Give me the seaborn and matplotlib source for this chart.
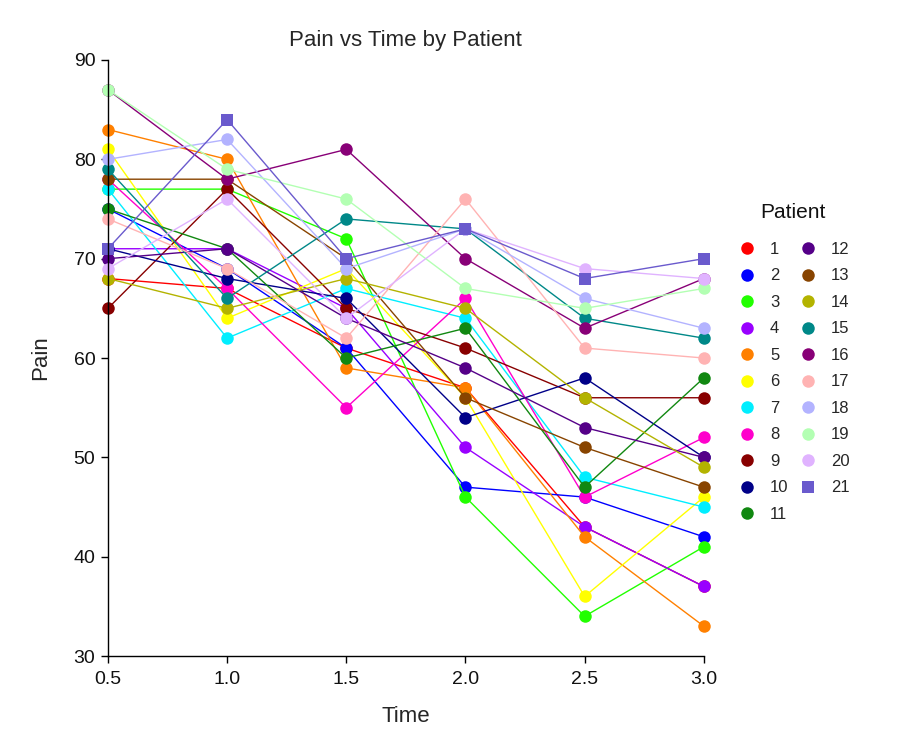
import matplotlib
matplotlib.use("Agg")
import matplotlib.pyplot as plt
from matplotlib.lines import Line2D
import seaborn as sns
import pandas as pd

times = [0.5, 1.0, 1.5, 2.0, 2.5, 3.0]
patients = [str(i) for i in range(1, 22)]
pain = {
    "1":  [68, 67, 61, 57, 43, 37],
    "2":  [75, 69, 61, 47, 46, 42],
    "3":  [77, 77, 72, 46, 34, 41],
    "4":  [71, 71, 65, 51, 43, 37],
    "5":  [83, 80, 59, 57, 42, 33],
    "6":  [81, 64, 69, 56, 36, 46],
    "7":  [77, 62, 67, 64, 48, 45],
    "8":  [78, 67, 55, 66, 46, 52],
    "9":  [65, 77, 65, 61, 56, 56],
    "10": [71, 68, 66, 54, 58, 50],
    "11": [75, 71, 60, 63, 47, 58],
    "12": [70, 71, 64, 59, 53, 50],
    "13": [78, 78, 70, 56, 51, 47],
    "14": [68, 65, 68, 65, 56, 49],
    "15": [79, 66, 74, 73, 64, 62],
    "16": [87, 78, 81, 70, 63, 68],
    "17": [74, 69, 62, 76, 61, 60],
    "18": [80, 82, 69, 73, 66, 63],
    "19": [87, 79, 76, 67, 65, 67],
    "20": [69, 76, 64, 73, 69, 68],
    "21": [71, 84, 70, 73, 68, 70],
}
colors = ["#FF0000", "#0000FF", "#22FF00", "#9900FF", "#FF8000", "#FFFF00",
          "#00EEFF", "#FF00CC", "#880000", "#000088", "#118811", "#550088",
          "#884400", "#B3B300", "#008888", "#880077", "#FFB3B3", "#B3B3FF",
          "#B3FFB3", "#E0B3FF", "#6A5ACD"]
markers_list = ["o"] * 20 + ["s"]

rows = []
for p in patients:
    for t, v in zip(times, pain[p]):
        rows.append({"Time": t, "Pain": v, "Patient": p})
df = pd.DataFrame(rows)

sns.set_style("white")
plt.rcParams["font.family"] = ["Liberation Sans", "DejaVu Sans"]

fig = plt.figure(figsize=(9.07, 7.5), dpi=100)
ax = fig.add_axes([0.119, 0.1253, 0.657, 0.7947])

palette = dict(zip(patients, colors))
mk = dict(zip(patients, markers_list))
sns.lineplot(data=df, x="Time", y="Pain", hue="Patient", style="Patient",
             hue_order=patients, style_order=patients, palette=palette,
             markers=mk, dashes=False, errorbar=None, ax=ax, legend=False,
             linewidth=1.0, markersize=9, markeredgewidth=0)
for ln in ax.get_lines():
    ln.set_clip_on(False)

ax.set_xlim(0.5, 3.0)
ax.set_ylim(30, 90)
ax.set_xticks(times)
ax.set_xticklabels([f"{t:.1f}" for t in times])
ax.set_yticks([30, 40, 50, 60, 70, 80, 90])
for s in ["top", "right"]:
    ax.spines[s].set_visible(False)
for s in ["left", "bottom"]:
    ax.spines[s].set_color("black")
    ax.spines[s].set_linewidth(1.0)
ax.tick_params(axis="x", pad=6)
ax.tick_params(axis="y", pad=4)
ax.tick_params(axis="both", direction="out", length=5, width=1, color="black",
               labelsize=14, labelcolor="#111111", left=True, bottom=True)
ax.set_xlabel("Time", fontsize=16, labelpad=13)
ax.set_ylabel("Pain", fontsize=16, labelpad=16)
ax.set_title("Pain vs Time by Patient", fontsize=16, pad=10)

handles = [Line2D([], [], linestyle="none", marker=m, color=c, markersize=9,
                  markeredgewidth=0) for c, m in zip(colors, markers_list)]
leg = ax.legend(handles, patients, ncol=2, frameon=False,
                loc="upper left", bbox_to_anchor=(1.048, 0.706), fontsize=12,
                handlelength=1.0, handletextpad=0.85,
                columnspacing=0.7, labelspacing=0.69, borderaxespad=0)
fig.text(793 / 907, 1 - 212 / 750, "Patient", fontsize=15, ha="center",
         va="center", color="#111111")

fig.savefig("out.png", dpi=100)
